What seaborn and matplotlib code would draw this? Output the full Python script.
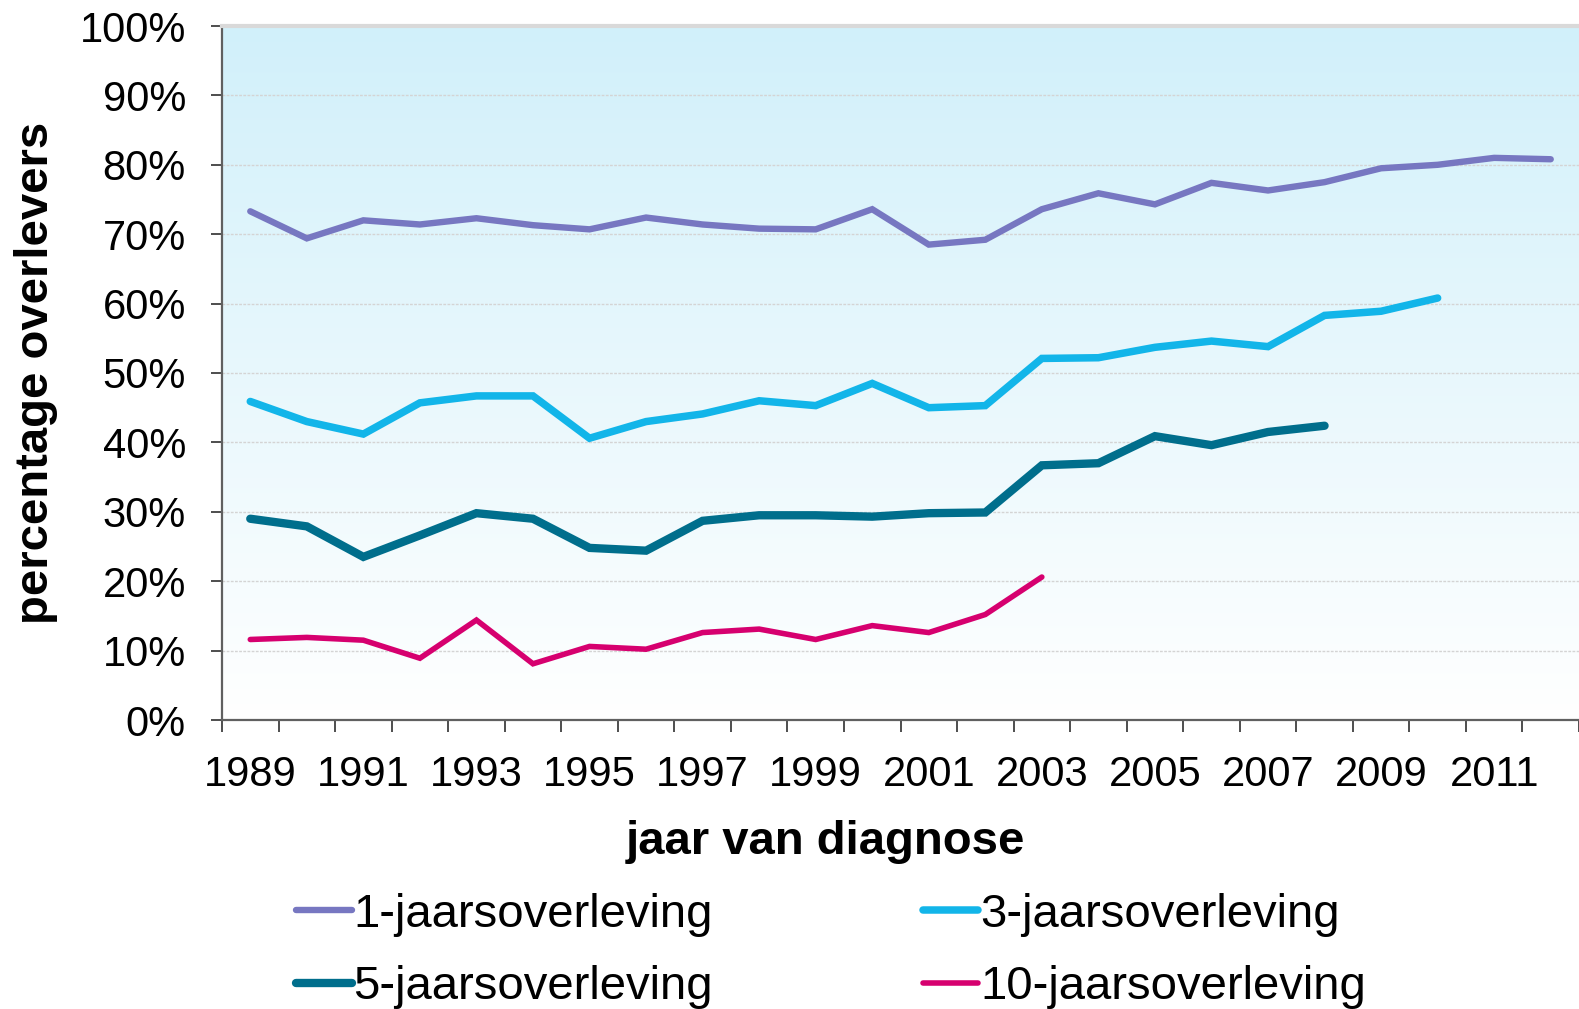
import numpy as np
import pandas as pd
import matplotlib
matplotlib.use("Agg")
import matplotlib.pyplot as plt
import seaborn as sns
from matplotlib.colors import LinearSegmentedColormap

# ---------------- data ----------------
years = list(range(1989, 2013))
one_year = [73.3, 69.4, 72.0, 71.4, 72.3, 71.3, 70.7, 72.4, 71.4, 70.8, 70.7, 73.6,
            68.5, 69.2, 73.6, 75.9, 74.3, 77.4, 76.3, 77.5, 79.5, 80.0, 81.0, 80.8]
three_year = [45.9, 43.0, 41.2, 45.7, 46.7, 46.7, 40.6, 43.0, 44.1, 46.0, 45.3, 48.5,
              45.0, 45.3, 52.1, 52.2, 53.7, 54.6, 53.8, 58.3, 58.9, 60.8]
five_year = [29.0, 27.9, 23.5, 26.6, 29.8, 29.0, 24.8, 24.4, 28.7, 29.5, 29.5, 29.3,
             29.8, 29.9, 36.7, 37.0, 40.9, 39.6, 41.5, 42.4]
ten_year = [11.6, 11.9, 11.5, 8.9, 14.4, 8.1, 10.6, 10.2, 12.6, 13.1, 11.6, 13.6,
            12.6, 15.2, 20.6]
series_names = ["1-jaarsoverleving", "3-jaarsoverleving", "5-jaarsoverleving", "10-jaarsoverleving"]
y_ticks = list(range(0, 101, 10))
x_label_years = list(range(1989, 2012, 2))

colors = ["#7777C1", "#12B5E9", "#006E8C", "#D6006F"]
widths = [4.6, 5.4, 6.0, 4.0]

# ---------------- style ----------------
sns.set_style("ticks")
plt.rcParams["font.family"] = ["Liberation Sans", "DejaVu Sans"]
plt.rcParams["text.color"] = "black"

values = [one_year, three_year, five_year, ten_year]
frames = []
for name, vals in zip(series_names, values):
    frames.append(pd.DataFrame({"jaar": years[:len(vals)], "pct": vals, "reeks": name}))
df = pd.concat(frames, ignore_index=True)

W, H = 1579, 1009
fig = plt.figure(figsize=(W / 100, H / 100), dpi=100)
ax = fig.add_axes([222 / W, 1 - 720 / H, 1357 / W, 694 / H])

# gradient background
cmap = LinearSegmentedColormap.from_list("bg", ["#FFFFFF", "#D1F0FA"])
grad = np.linspace(0, 1, 256).reshape(-1, 1)
ax.imshow(grad, extent=[1988.5, 2012.5, 0, 100], aspect="auto", origin="lower",
          cmap=cmap, zorder=0, interpolation="bilinear")

for name, c, lw in zip(series_names, colors, widths):
    sns.lineplot(data=df[df["reeks"] == name], x="jaar", y="pct", color=c,
                 linewidth=lw, ax=ax, label=name, solid_capstyle="round",
                 solid_joinstyle="miter", zorder=3)

ax.set_xlim(1988.5, 2012.5)
ax.set_ylim(0, 100)

# grid
ax.set_axisbelow(True)
ax.yaxis.grid(True, color="#D4D4D4", linestyle=(0, (2, 1)), linewidth=1.0, zorder=0.5)
ax.xaxis.grid(False)

# spines
ax.spines["right"].set_visible(False)
ax.spines["top"].set_color("#D9D9D9")
ax.spines["top"].set_linewidth(3)
for s in ["left", "bottom"]:
    ax.spines[s].set_color("#606060")
    ax.spines[s].set_linewidth(1.6)

# y ticks
ax.set_yticks(y_ticks)
ax.set_yticklabels([f"{v}%" for v in y_ticks])
ax.tick_params(axis="y", which="major", length=8, width=1.3, color="#404040",
               pad=18, labelsize=30, labelcolor="black")

# x ticks: boundaries as major ticks, labels on minor ticks at centres
ax.set_xticks(np.arange(1988.5, 2013, 1.0))
ax.set_xticklabels([])
ax.set_xticks(x_label_years, minor=True)
ax.set_xticklabels([str(y) for y in x_label_years], minor=True)
ax.tick_params(axis="x", which="major", length=8.6, width=1.3, color="#404040")
ax.tick_params(axis="x", which="minor", length=0, pad=25, labelsize=30, labelcolor="black")

# axis labels
ax.set_ylabel("percentage overlevers", fontsize=34, fontweight="bold", color="black")
ax.yaxis.set_label_coords(-0.1209, 0.5)
ax.set_xlabel("jaar van diagnose", fontsize=34, fontweight="bold", color="black")
ax.xaxis.set_label_coords(0.445, -0.1441)

# legend
handles, labels = ax.get_legend_handles_labels()
ax.get_legend().remove()
order = [0, 2, 1, 3]
fig.legend([handles[i] for i in order], [labels[i] for i in order], ncol=2,
           loc="center left", bbox_to_anchor=(296 / W, 1 - 951 / H),
           frameon=False, fontsize=34, handlelength=1.18, handletextpad=0.03,
           columnspacing=4.45, labelspacing=0.6, borderpad=0, borderaxespad=0,
           labelcolor="black")

fig.savefig("out.png", dpi=100)
